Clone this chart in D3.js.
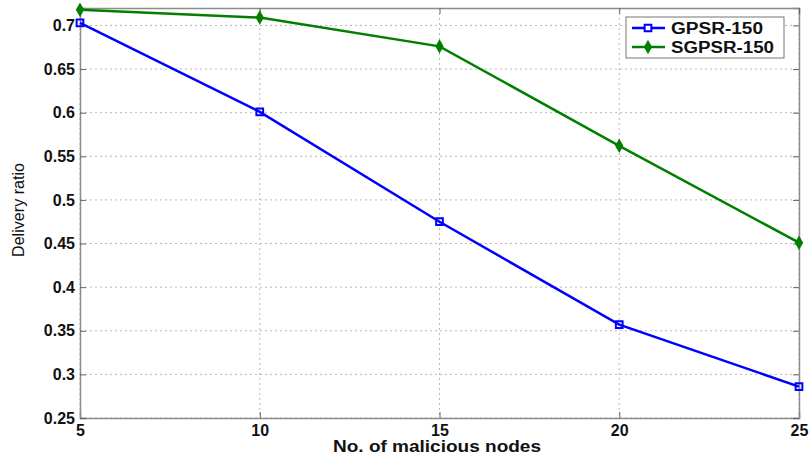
<!DOCTYPE html>
<html>
<head>
<meta charset="utf-8">
<script src="https://cdn.jsdelivr.net/npm/d3@7"></script>
<style>
  body { margin: 0; background: #fff; }
  text { font-family: "Liberation Sans", Arial, sans-serif; }
</style>
</head>
<body>
<div id="chart"></div>
<script>
let w = 810,
    h = 458;

let margin = { top: 8, bottom: 40, left: 80, right: 11 };
let width = w - margin.left - margin.right;
let height = h - margin.top - margin.bottom;

// data
let nodes = [5, 10, 15, 20, 25];
let gpsr = [0.703, 0.601, 0.475, 0.357, 0.286];
let sgpsr = [0.718, 0.709, 0.676, 0.562, 0.451];
let xTicks = [5, 10, 15, 20, 25];
let yTicks = [0.25, 0.3, 0.35, 0.4, 0.45, 0.5, 0.55, 0.6, 0.65, 0.7];
let seriesNames = ["GPSR-150", "SGPSR-150"];

let svg = d3.select("#chart")
            .append("svg")
            .attr("width", w)
            .attr("height", h);

let g = svg.append("g")
           .attr("transform", "translate(" + margin.left + "," + margin.top + ")");

let x = d3.scaleLinear().domain([5, 25]).range([0, width]);
let y = d3.scaleLinear().domain([0.25, 0.72]).range([height, 0]);

// grid
g.selectAll(".hgrid")
  .data(yTicks)
  .enter()
  .append("line")
  .attr("x1", 0).attr("x2", width)
  .attr("y1", d => y(d)).attr("y2", d => y(d))
  .style("stroke", "#b8b8b8")
  .style("stroke-dasharray", "2,3");

g.selectAll(".vgrid")
  .data(xTicks)
  .enter()
  .append("line")
  .attr("x1", d => x(d)).attr("x2", d => x(d))
  .attr("y1", 0).attr("y2", height)
  .style("stroke", "#b8b8b8")
  .style("stroke-dasharray", "2,3");

// axes (ticks point inwards)
g.append("g")
  .attr("transform", "translate(0," + height + ")")
  .call(d3.axisBottom(x).tickValues(xTicks).tickSize(-6).tickPadding(7).tickFormat(d3.format("d")));

g.append("g")
  .call(d3.axisLeft(y).tickValues(yTicks).tickSize(-6).tickPadding(5).tickFormat(d => d3.format("")(+d.toFixed(2))));

g.append("g")
  .attr("transform", "translate(" + width + ",0)")
  .call(d3.axisRight(y).tickValues(yTicks).tickSize(-6).tickFormat(""));

g.append("g")
  .call(d3.axisTop(x).tickValues(xTicks).tickSize(-6).tickFormat(""));

g.selectAll(".domain").style("stroke", "#8c8c8c").style("stroke-width", 1.5);
g.selectAll(".tick line").style("stroke", "#666");
g.selectAll(".tick text")
  .style("font-size", "16px")
  .style("font-weight", "bold")
  .style("fill", "#111");

// axis titles
svg.append("text")
  .attr("x", 437)
  .attr("y", 452)
  .attr("text-anchor", "middle")
  .attr("textLength", 208)
  .attr("lengthAdjust", "spacingAndGlyphs")
  .style("font-size", "16px")
  .style("font-weight", "bold")
  .style("fill", "#111")
  .text("No. of malicious nodes");

svg.append("text")
  .attr("transform", "translate(24,210) rotate(-90)")
  .attr("text-anchor", "middle")
  .attr("textLength", 94)
  .attr("lengthAdjust", "spacingAndGlyphs")
  .style("font-size", "16px")
  .style("fill", "#111")
  .text("Delivery ratio");

// lines
let line = d3.line()
  .x((d, i) => x(nodes[i]))
  .y(d => y(d));

g.append("path")
  .datum(gpsr)
  .attr("d", line)
  .style("fill", "none")
  .style("stroke", "#0000ff")
  .style("stroke-width", 2.5);

g.append("path")
  .datum(sgpsr)
  .attr("d", line)
  .style("fill", "none")
  .style("stroke", "#007f00")
  .style("stroke-width", 2.5);

let square = d3.symbol().type(d3.symbolSquare).size(45);
let diamond = d3.symbol().type(d3.symbolDiamond).size(38);

g.selectAll(".sq")
  .data(gpsr)
  .enter()
  .append("path")
  .attr("d", square)
  .attr("transform", (d, i) => "translate(" + x(nodes[i]) + "," + y(d) + ")")
  .style("fill", "none")
  .style("stroke", "#0000ff")
  .style("stroke-width", 2);

g.selectAll(".dm")
  .data(sgpsr)
  .enter()
  .append("path")
  .attr("d", diamond)
  .attr("transform", (d, i) => "translate(" + x(nodes[i]) + "," + y(d) + ")")
  .style("fill", "#007f00")
  .style("stroke", "#007f00")
  .style("stroke-width", 1.5);

// legend
let legend = svg.append("g").attr("transform", "translate(626,17)");

legend.append("rect")
  .attr("width", 158)
  .attr("height", 41)
  .style("fill", "#fff")
  .style("stroke", "#777")
  .style("stroke-width", 1);

let colors = ["#0000ff", "#007f00"];
let shapes = [square, diamond];
let textWidths = [92, 103];

seriesNames.forEach((name, i) => {
  let ly = 11 + i * 19;
  legend.append("line")
    .attr("x1", 6).attr("x2", 39)
    .attr("y1", ly).attr("y2", ly)
    .style("stroke", colors[i])
    .style("stroke-width", 2.5);
  legend.append("path")
    .attr("d", shapes[i])
    .attr("transform", "translate(22," + ly + ")")
    .style("fill", i == 0 ? "#fff" : colors[i])
    .style("stroke", colors[i])
    .style("stroke-width", i == 0 ? 2 : 1.5);
  legend.append("text")
    .attr("x", 45)
    .attr("y", ly + 6)
    .attr("textLength", textWidths[i])
    .attr("lengthAdjust", "spacingAndGlyphs")
    .style("font-size", "16px")
    .style("font-weight", "bold")
    .style("fill", "#111")
    .text(name);
});
</script>
</body>
</html>
